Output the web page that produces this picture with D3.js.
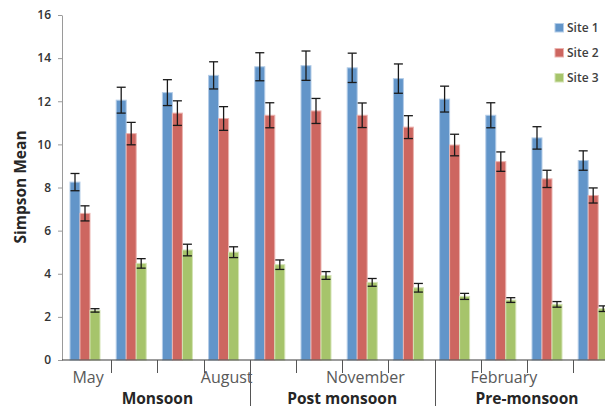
<!DOCTYPE html>
<html>
<head>
<meta charset="utf-8">
<script src="https://cdn.jsdelivr.net/npm/d3@7/dist/d3.min.js"></script>
<style>
  html, body { margin: 0; padding: 0; background: #fff; }
  svg { display: block; font-family: "Open Sans", "Noto Sans", sans-serif; }
</style>
</head>
<body>
<svg id="chart" width="605" height="410"></svg>
<script>
// Monthly Simpson diversity means (± error) at three sites
const months = ["May", "June", "July", "August", "September", "October",
                "November", "December", "January", "February", "March", "April"];
const shownMonths = ["May", "August", "November", "February"];
const seasons = ["Monsoon", "Post monsoon", "Pre-monsoon"];
const seasonMonths = [
  ["May", "June", "July", "August"],
  ["September", "October", "November", "December"],
  ["January", "February", "March", "April"]
];
const seriesNames = ["Site 1", "Site 2", "Site 3"];
const site1 = [8.25, 12.05, 12.4, 13.2, 13.6, 13.65, 13.55, 13.05, 12.1, 11.35, 10.3, 9.25];
const site2 = [6.8, 10.5, 11.45, 11.2, 11.35, 11.55, 11.35, 10.8, 9.97, 9.2, 8.4, 7.63];
const site3 = [2.3, 4.48, 5.1, 5.0, 4.42, 3.92, 3.6, 3.35, 2.95, 2.78, 2.58, 2.38];
const err1 = [0.4, 0.6, 0.6, 0.63, 0.65, 0.68, 0.68, 0.68, 0.6, 0.58, 0.52, 0.45];
const err2 = [0.35, 0.52, 0.57, 0.55, 0.58, 0.58, 0.57, 0.53, 0.5, 0.45, 0.4, 0.35];
const err3 = [0.08, 0.22, 0.27, 0.25, 0.22, 0.18, 0.18, 0.2, 0.14, 0.11, 0.13, 0.13];
const yTicks = [0, 2, 4, 6, 8, 10, 12, 14, 16];

const fills = ["#6295C9", "#CD6660", "#A6C46B"];
const edges = ["#B4CDE8", "#EBB3AF", "#D3E3B4"];

const values = [site1, site2, site3];
const errors = [err1, err2, err3];

const svg = d3.select("#chart");
const axisX = 62, base = 360;

const y = d3.scaleLinear().domain([0, 16]).range([base, 15]);
const x0 = d3.scaleBand().domain(months).range([65, 65 + 12 * 46.2]).paddingInner(0).paddingOuter(0);
const x1 = d3.scaleBand().domain(seriesNames).range([5, 35]).padding(0);

// bars
const rows = [];
months.forEach((m, i) => {
  seriesNames.forEach((s, k) => {
    rows.push({ m, s, k, v: values[k][i], e: errors[k][i] });
  });
});

svg.append("g").selectAll("rect").data(rows).join("rect")
  .attr("x", d => x0(d.m) + x1(d.s))
  .attr("y", d => y(d.v))
  .attr("width", x1.bandwidth())
  .attr("height", d => y(0) - y(d.v))
  .attr("fill", d => fills[d.k])
  .attr("stroke", d => edges[d.k])
  .attr("stroke-width", 1);

// error bars
const eb = svg.append("g").attr("stroke", "#1a1a1a").attr("stroke-width", 1.3);
rows.forEach(d => {
  const cx = x0(d.m) + x1(d.s) + x1.bandwidth() / 2;
  const t = y(d.v + d.e), b = y(d.v - d.e);
  eb.append("line").attr("x1", cx).attr("x2", cx).attr("y1", t).attr("y2", b);
  eb.append("line").attr("x1", cx - 4.5).attr("x2", cx + 4.5).attr("y1", t).attr("y2", t);
  eb.append("line").attr("x1", cx - 4.5).attr("x2", cx + 4.5).attr("y1", b).attr("y2", b);
});

// y axis
const yAxis = svg.append("g")
  .attr("transform", `translate(${axisX},0)`)
  .call(d3.axisLeft(y).tickValues(yTicks).tickSize(4).tickPadding(7).tickSizeOuter(0));
yAxis.select(".domain").attr("stroke", "#9a9a9a");
yAxis.selectAll(".tick line").attr("stroke", "#9a9a9a");
yAxis.selectAll(".tick text")
  .attr("fill", "#333")
  .style("font-size", "12px")
  .style("font-weight", 600)
  .style("font-family", "'Open Sans', sans-serif");

// category baseline
svg.append("line")
  .attr("x1", axisX).attr("x2", 605)
  .attr("y1", base).attr("y2", base)
  .attr("stroke", "#3a3a3a").attr("stroke-width", 1.2);

// month dividers; season boundaries run down through the season row
const seasonStarts = seasonMonths.slice(1).map(g => g[0]);
months.slice(1).forEach(m => {
  const xx = Math.round(x0(m)) + 0.5;
  const long = seasonStarts.includes(m);
  svg.append("line")
    .attr("x1", xx).attr("x2", xx)
    .attr("y1", base).attr("y2", long ? 406 : 373)
    .attr("stroke", "#555").attr("stroke-width", 1);
});

// month labels
svg.append("g").selectAll("text").data(shownMonths).join("text")
  .attr("x", m => x0(m) + x0.bandwidth() / 2)
  .attr("y", 383)
  .attr("text-anchor", "middle")
  .attr("fill", "#595959")
  .style("font-size", "16px")
  .text(m => m);

// season labels
svg.append("g").selectAll("text").data(seasons).join("text")
  .attr("x", (s, i) => {
    const g = seasonMonths[i];
    return (x0(g[0]) + x0(g[g.length - 1]) + x0.bandwidth()) / 2;
  })
  .attr("y", 404)
  .attr("text-anchor", "middle")
  .attr("fill", "#262626")
  .style("font-size", "15.5px")
  .style("font-weight", 700)
  .text(s => s);

// y axis title
svg.append("text")
  .attr("transform", "translate(26,187) rotate(-90)")
  .attr("text-anchor", "middle")
  .attr("fill", "#262626")
  .style("font-size", "15.5px")
  .style("font-weight", 700)
  .text("Simpson Mean");

// legend
const lg = svg.append("g");
seriesNames.forEach((s, k) => {
  const cy = 28 + k * 25;
  lg.append("rect")
    .attr("x", 555).attr("y", cy - 4.5)
    .attr("width", 8.5).attr("height", 8.5)
    .attr("fill", fills[k]).attr("stroke", edges[k]).attr("stroke-width", 1);
  lg.append("text")
    .attr("x", 567).attr("y", cy)
    .attr("dy", "0.35em")
    .attr("fill", "#404040")
    .style("font-size", "12px")
    .style("font-weight", 600)
    .text(s);
});
</script>
</body>
</html>
